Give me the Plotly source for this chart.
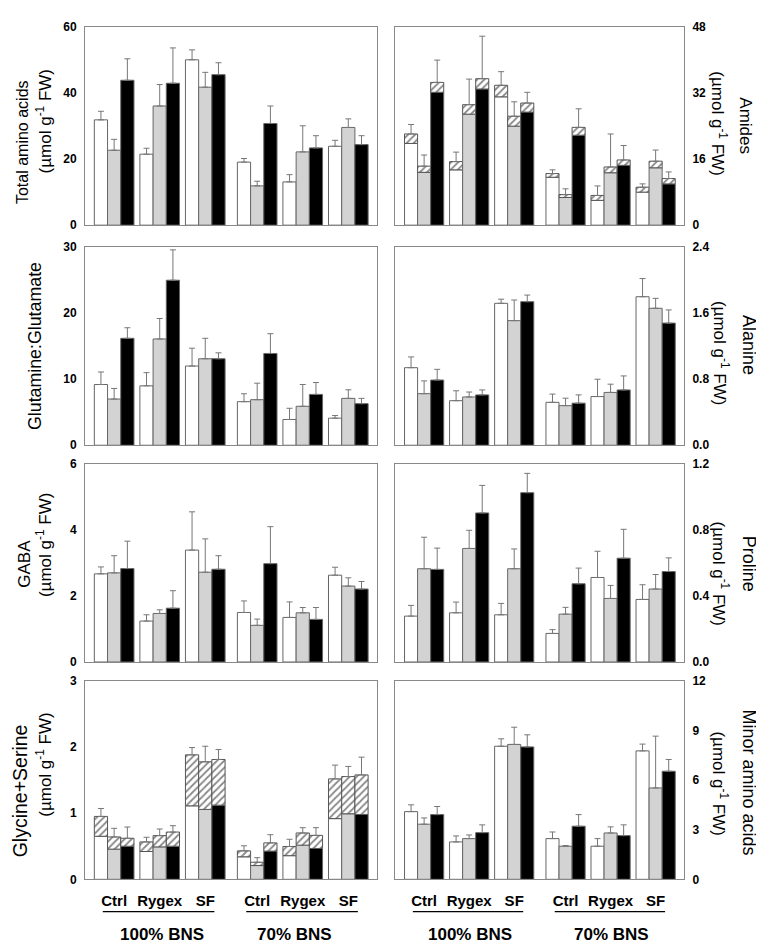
import plotly.graph_objects as go

# ---------------- data ----------------
groups = ["Ctrl", "Rygex", "SF", "Ctrl", "Rygex", "SF"]
group_pos = [0, 1, 2, 3.14, 4.14, 5.14]
levels = ["100% BNS", "70% BNS"]
series_names = ["S1", "S2", "S3"]
series_colors = ["white", "#d3d3d3", "black"]

# Total amino acids
taa_s1 = [31.9, 21.5, 50.1, 19.1, 13.1, 23.9]
taa_s2 = [22.7, 36.1, 41.8, 11.9, 22.2, 29.6]
taa_s3 = [43.9, 43.0, 45.6, 30.8, 23.4, 24.4]
taa_e1 = [2.6, 1.8, 3.0, 1.1, 2.2, 1.8]
taa_e2 = [3.3, 6.5, 4.5, 1.4, 7.9, 2.6]
taa_e3 = [6.5, 10.7, 3.6, 5.3, 3.7, 2.7]

# Amides (lower solid part and total incl. hatched part)
ami_low1 = [19.8, 13.4, 31.1, 11.6, 6.0, 8.0]
ami_low2 = [12.8, 26.9, 24.0, 6.7, 12.7, 13.9]
ami_low3 = [32.2, 33.0, 27.4, 21.8, 14.5, 10.0]
ami_tot1 = [22.1, 15.4, 33.9, 12.5, 7.2, 9.2]
ami_tot2 = [14.3, 29.2, 26.4, 7.4, 14.1, 15.5]
ami_tot3 = [34.6, 35.5, 29.6, 23.7, 15.8, 11.3]
ami_e1 = [2.3, 2.3, 3.3, 0.9, 2.3, 0.8]
ami_e2 = [2.7, 6.2, 3.5, 1.4, 8.0, 2.7]
ami_e3 = [5.4, 10.3, 2.6, 4.5, 3.5, 1.6]

# Glutamine:Glutamate
gg_s1 = [9.2, 9.0, 12.0, 6.6, 3.9, 4.1]
gg_s2 = [7.0, 16.1, 13.1, 6.9, 5.9, 7.1]
gg_s3 = [16.2, 25.0, 13.1, 13.9, 7.7, 6.3]
gg_e1 = [1.9, 2.0, 2.7, 1.2, 1.7, 0.4]
gg_e2 = [1.6, 3.1, 3.1, 2.5, 3.3, 1.3]
gg_e3 = [1.6, 4.6, 0.9, 3.0, 1.8, 0.8]

# Alanine
ala_s1 = [0.94, 0.54, 1.72, 0.52, 0.59, 1.80]
ala_s2 = [0.625, 0.585, 1.51, 0.48, 0.64, 1.66]
ala_s3 = [0.79, 0.61, 1.74, 0.51, 0.67, 1.48]
ala_e1 = [0.13, 0.12, 0.05, 0.10, 0.21, 0.22]
ala_e2 = [0.155, 0.06, 0.25, 0.09, 0.10, 0.12]
ala_e3 = [0.13, 0.06, 0.08, 0.10, 0.17, 0.16]

# GABA
gaba_s1 = [2.67, 1.24, 3.39, 1.50, 1.35, 2.63]
gaba_s2 = [2.70, 1.47, 2.72, 1.11, 1.49, 2.30]
gaba_s3 = [2.83, 1.63, 2.81, 2.98, 1.29, 2.21]
gaba_e1 = [0.21, 0.19, 1.16, 0.35, 0.47, 0.24]
gaba_e2 = [0.52, 0.11, 1.01, 0.19, 0.16, 0.25]
gaba_e3 = [0.83, 0.53, 0.41, 1.12, 0.36, 0.23]

# Proline
pro_s1 = [0.278, 0.298, 0.286, 0.173, 0.512, 0.379]
pro_s2 = [0.565, 0.688, 0.565, 0.29, 0.385, 0.442]
pro_s3 = [0.561, 0.903, 1.026, 0.474, 0.629, 0.548]
pro_e1 = [0.065, 0.065, 0.069, 0.023, 0.159, 0.089]
pro_e2 = [0.191, 0.11, 0.12, 0.041, 0.079, 0.088]
pro_e3 = [0.129, 0.167, 0.117, 0.095, 0.175, 0.083]

# Glycine+Serine (lower solid part and total incl. hatched part)
gs_low1 = [0.65, 0.42, 1.11, 0.34, 0.357, 0.917]
gs_low2 = [0.456, 0.49, 1.056, 0.208, 0.516, 0.99]
gs_low3 = [0.50, 0.50, 1.12, 0.426, 0.466, 0.98]
gs_tot1 = [0.95, 0.565, 1.88, 0.43, 0.496, 1.517]
gs_tot2 = [0.64, 0.66, 1.775, 0.258, 0.70, 1.552]
gs_tot3 = [0.62, 0.714, 1.81, 0.55, 0.664, 1.577]
gs_e1 = [0.12, 0.07, 0.11, 0.076, 0.109, 0.208]
gs_e2 = [0.13, 0.10, 0.235, 0.069, 0.08, 0.153]
gs_e3 = [0.17, 0.096, 0.15, 0.124, 0.116, 0.268]

# Minor amino acids
min_s1 = [4.09, 2.26, 8.04, 2.46, 2.0, 7.76]
min_s2 = [3.33, 2.46, 8.15, 2.0, 2.80, 5.52]
min_s3 = [3.91, 2.82, 8.0, 3.21, 2.64, 6.53]
min_e1 = [0.41, 0.36, 0.45, 0.40, 0.46, 0.41]
min_e2 = [0.38, 0.22, 1.04, 0.04, 0.37, 3.13]
min_e3 = [0.49, 0.47, 0.73, 0.70, 0.65, 0.71]

# panel definitions
panels = [
    dict(vals=[taa_s1, taa_s2, taa_s3], errs=[taa_e1, taa_e2, taa_e3], tots=None,
         ymax=60, ticks=[0, 20, 40, 60], fmt="{:.0f}"),
    dict(vals=[ami_low1, ami_low2, ami_low3], errs=[ami_e1, ami_e2, ami_e3],
         tots=[ami_tot1, ami_tot2, ami_tot3], ymax=48, ticks=[0, 16, 32, 48], fmt="{:.0f}"),
    dict(vals=[gg_s1, gg_s2, gg_s3], errs=[gg_e1, gg_e2, gg_e3], tots=None,
         ymax=30, ticks=[0, 10, 20, 30], fmt="{:.0f}"),
    dict(vals=[ala_s1, ala_s2, ala_s3], errs=[ala_e1, ala_e2, ala_e3], tots=None,
         ymax=2.4, ticks=[0, 0.8, 1.6, 2.4], fmt="{:.1f}"),
    dict(vals=[gaba_s1, gaba_s2, gaba_s3], errs=[gaba_e1, gaba_e2, gaba_e3], tots=None,
         ymax=6, ticks=[0, 2, 4, 6], fmt="{:.0f}"),
    dict(vals=[pro_s1, pro_s2, pro_s3], errs=[pro_e1, pro_e2, pro_e3], tots=None,
         ymax=1.2, ticks=[0, 0.4, 0.8, 1.2], fmt="{:.1f}"),
    dict(vals=[gs_low1, gs_low2, gs_low3], errs=[gs_e1, gs_e2, gs_e3],
         tots=[gs_tot1, gs_tot2, gs_tot3], ymax=3, ticks=[0, 1, 2, 3], fmt="{:.0f}"),
    dict(vals=[min_s1, min_s2, min_s3], errs=[min_e1, min_e2, min_e3], tots=None,
         ymax=12, ticks=[0, 3, 6, 9, 12], fmt="{:.0f}"),
]

UNIT = "(µmol g<sup>-1</sup> FW)"
# y-axis titles: (line text, x px, y px, font size)
ytitles = [
    [("Total amino acids", 14, 129, 16), (UNIT, 36, 108, 17)],
    [("Amides", 738, 112, 17), (UNIT, 711, 110, 17)],
    [("Glutamine:Glutamate", 27, 336, 17.8)],
    [("Alanine", 741, 335, 18), (UNIT, 713, 343, 17)],
    [("GABA", 17, 557, 17), (UNIT, 36, 538, 17)],
    [("Proline", 741, 557, 18), (UNIT, 713, 567, 17)],
    [("Glycine+Serine", 12, 788, 19.5), (UNIT, 36, 761, 17)],
    [("Minor amino acids", 741, 779, 18), (UNIT, 712, 780, 17)],
]

# ---------------- figure ----------------
W, H = 764, 946
FONT = "Liberation Sans, Arial, Helvetica, sans-serif"
col_px = [(77, 369), (387.3, 676)]
row_px = [(12.3, 213.3), (235.7, 436.7), (455.7, 656.7), (675.7, 877.3)]
XRANGE = [-0.64, 5.77]

fig = go.Figure()
layout = dict(
    width=W, height=H, margin=dict(l=0, r=0, t=0, b=0),
    paper_bgcolor="white", plot_bgcolor="white",
    barmode="group", bargap=0.13, bargroupgap=0,
    showlegend=False, font=dict(family=FONT, color="black"),
)

annotations = []
shapes = []
for k, p in enumerate(panels):
    r, c = divmod(k, 2)
    n = k + 1
    xa = "x" if n == 1 else f"x{n}"
    ya = "y" if n == 1 else f"y{n}"
    for i in range(3):
        stacked = p["tots"] is not None
        fig.add_trace(go.Bar(
            x=group_pos, y=p["vals"][i], xaxis=xa, yaxis=ya,
            name=series_names[i], offsetgroup=str(i),
            marker=dict(color=series_colors[i], line=dict(color="#666666", width=1)),
            error_y=None if stacked else dict(type="data", array=p["errs"][i],
                                              arrayminus=[0] * 6, symmetric=False,
                                              color="#777777", thickness=1, width=3),
        ))
        if stacked:
            hatch = [t - l for t, l in zip(p["tots"][i], p["vals"][i])]
            fig.add_trace(go.Bar(
                x=group_pos, y=hatch, base=p["vals"][i], xaxis=xa, yaxis=ya,
                name=series_names[i], offsetgroup=str(i),
                marker=dict(color="white", line=dict(color="#555555", width=1),
                            pattern=dict(shape="/", fgcolor="#111111", bgcolor="white",
                                         size=5, solidity=0.35)),
                error_y=dict(type="data", array=p["errs"][i], arrayminus=[0] * 6,
                             symmetric=False, color="#777777", thickness=1, width=3),
            ))
    x0, x1 = col_px[c]
    top, bot = row_px[r]
    bottom_row = r == 3
    layout["xaxis" if n == 1 else f"xaxis{n}"] = dict(
        domain=[x0 / W, x1 / W], anchor=ya, range=XRANGE,
        showline=True, mirror=True, linecolor="#888888", linewidth=1,
        showgrid=False, zeroline=False,
        tickvals=group_pos, ticktext=groups, showticklabels=bottom_row,
        ticks="outside" if bottom_row else "", ticklen=8, tickcolor="rgba(0,0,0,0)",
        tickfont=dict(family=FONT, size=15, color="black", weight="bold"),
    )
    layout["yaxis" if n == 1 else f"yaxis{n}"] = dict(
        domain=[1 - bot / H, 1 - top / H], anchor=xa, range=[0, p["ymax"]],
        side="left" if c == 0 else "right",
        showline=True, mirror=True, linecolor="#888888", linewidth=1,
        showgrid=False, zeroline=False,
        tickvals=p["ticks"], ticktext=[p["fmt"].format(v) for v in p["ticks"]],
        ticks="outside", ticklen=5, tickcolor="rgba(0,0,0,0)",
        tickfont=dict(family=FONT, size=12, color="black", weight="bold"),
    )
    for (txt, px, py, fs) in ytitles[k]:
        annotations.append(dict(
            text=txt, xref="paper", yref="paper", x=px / W, y=1 - py / H,
            xanchor="center", yanchor="middle", showarrow=False,
            textangle=-90 if c == 0 else 90,
            font=dict(family=FONT, size=fs, color="black"),
        ))
    if bottom_row:
        for (lx0, lx1) in [(-0.25, 2.2), (2.9, 5.35)]:
            shapes.append(dict(type="line", xref=xa, yref="paper",
                               x0=lx0, x1=lx1, y0=1 - 910 / H, y1=1 - 910 / H,
                               line=dict(color="black", width=1.2)))
        centers = [1.04, 3.96] if c == 0 else [1.02, 4.15]
        for lev, cx in zip(levels, centers):
            annotations.append(dict(
                text=lev, xref=xa, yref="paper", x=cx, y=1 - 933 / H,
                xanchor="center", yanchor="middle", showarrow=False,
                font=dict(family=FONT, size=17, color="black", weight="bold"),
            ))

layout["annotations"] = annotations
layout["shapes"] = shapes
fig.update_layout(**layout)
fig.write_html("out.html")
